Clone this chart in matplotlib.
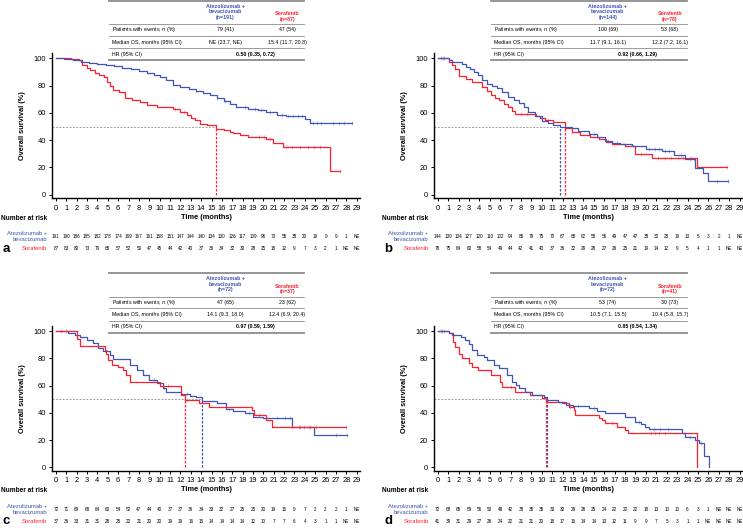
import matplotlib.pyplot as plt
import matplotlib.transforms as mtransforms
import numpy as np

plt.rcParams['font.family'] = ['Liberation Sans', 'DejaVu Sans']

BLUE = '#3F55B4'
RED = '#FF1F2D'
GREY = '#8C8C8C'

months = list(range(30))

# ---- panel a ----
a_atezo_t = [0, 0.8, 1.6, 2.4, 3.2, 4.0, 4.8, 5.6, 6.4, 7.2, 8.0, 8.8, 9.5, 10.0, 10.6, 11.3,
             12.0, 12.8, 13.5, 14.2, 14.85, 15.5, 16.2, 16.8, 17.4, 18.5, 19.5, 20.3, 21.3, 22.2, 24.0, 24.5]
a_atezo_s = [100, 99.5, 98.5, 97.5, 96.6, 96, 95, 94.2, 93, 92, 90.5, 89, 87.5, 86.4, 84, 80.3,
             79, 77.5, 76, 74.5, 73, 71, 68.5, 66.5, 64.4, 63.2, 62, 60.8, 58.8, 57.6, 55.5, 52.5]
a_atezo_end = 28.5
a_atezo_cens = [13.5, 15.5, 16.3, 18.2, 19.2, 19.8, 20.6, 21.8, 22.4, 22.9, 23.3, 23.7,
                24.8, 25.2, 25.6, 26.7, 27.3, 27.8, 28.5]
a_sora_t = [0, 1.5, 2.2, 2.5, 3.0, 3.3, 3.8, 4.2, 4.6, 4.9, 5.2, 5.5, 6.1, 6.7, 7.3, 8.1, 8.8, 9.7,
            11.3, 12.0, 12.6, 13.0, 13.4, 13.9, 14.6, 15.4, 16.2, 16.8, 17.1, 17.7, 18.5, 20.3, 20.9, 21.9, 26.4]
a_sora_s = [100, 99.3, 98.6, 95.5, 93, 91.5, 89.5, 88, 86, 83, 80, 76.6, 75.5, 71, 69.5, 68, 66, 64.4,
            63.2, 61, 58.3, 56.5, 54.5, 52, 51, 48.5, 47.5, 46, 45, 44, 42, 41, 38, 35, 17.3]
a_sora_end = 27.4
a_sora_cens = [11.5, 12.3, 19.6, 20.1, 20.6, 22.2, 22.8, 23.5, 24.3, 24.9, 25.5, 27.4]
a_medians = [15.4]
a_median_colors = [RED]
a_n = ['191', '87']
a_events = ['79 (41)', '47 (54)']
a_os = ['NE (23.7, NE)', '15.4 (11.7, 20.8)']
a_hr = '0.50 (0.35, 0.72)'
a_risk_atezo = ['191', '190', '186', '185', '182', '178', '174', '169', '167', '161', '158', '151', '147', '144',
                '140', '134', '130', '126', '117', '109', '96', '73', '55', '38', '20', '19', '9', '9', '1', 'NE']
a_risk_sora = ['87', '83', '80', '73', '70', '65', '57', '52', '50', '47', '45', '44', '42', '40', '37', '36',
               '34', '32', '30', '28', '25', '18', '12', '9', '7', '3', '2', '1', 'NE', 'NE']

# ---- panel b ----
b_atezo_t = [0, 1.06, 1.37, 2.3, 2.7, 3.1, 3.5, 3.9, 4.3, 4.7, 5.2, 5.7, 6.2, 6.8, 7.3, 7.8, 8.3, 8.7,
             9.3, 10.0, 10.6, 11.1, 11.7, 12.9, 13.5, 14.5, 15.3, 16.1, 16.7, 17.5, 18.7, 20.0, 21.5,
             22.7, 23.8, 24.75, 25.5, 26.0]
b_atezo_s = [100, 98.6, 97.5, 96, 94, 92.5, 90, 87.6, 84.5, 81.5, 80, 78, 75, 72, 69.5, 67, 64, 61,
             57.5, 54, 52.5, 51.5, 49.8, 49.2, 47, 44.3, 42.5, 39.4, 37.7, 37, 35.7, 33.3, 31.8,
             28.9, 26.5, 19.9, 16.3, 10.4]
b_atezo_end = 27.9
b_atezo_cens = [0.3, 0.6, 15.0, 16.4, 17.2, 20.3, 20.9, 21.3, 21.8, 22.2, 23.4, 24.2, 24.6, 26.8, 27.9]
b_sora_t = [0, 1.06, 1.4, 1.7, 2.0, 2.7, 3.3, 4.3, 4.7, 5.1, 5.5, 5.9, 6.4, 6.8, 7.1, 7.45, 9.4, 9.8,
            10.3, 11.1, 12.2, 12.9, 13.7, 14.6, 15.5, 16.2, 16.7, 18.0, 19.0, 20.6, 24.9]
b_sora_s = [100, 97, 95, 92.3, 87.4, 85, 82.6, 79, 76, 72.8, 71, 69.2, 66.5, 64.3, 61.5, 59.4, 57.5, 56,
            55, 53.5, 49, 46, 43.6, 42.5, 41.2, 39, 37.5, 35.6, 30.2, 26.6, 20.1]
b_sora_end = 27.8
b_sora_cens = [0.5, 8.0, 8.6, 10.6, 12.9, 16.9, 19.5, 21.2, 21.8, 22.4, 23.1, 23.6, 24.3, 27.8]
b_medians = [11.7, 12.2]
b_median_colors = [BLUE, RED]
b_n = ['144', '78']
b_events = ['100 (69)', '53 (68)']
b_os = ['11.7 (9.1, 16.1)', '12.2 (7.2, 16.1)']
b_hr = '0.92 (0.66, 1.29)'
b_risk_atezo = ['144', '139', '134', '127', '120', '110', '102', '94', '85', '79', '75', '70', '67', '65',
                '62', '58', '56', '49', '47', '47', '38', '32', '25', '19', '13', '5', '3', '2', '1', 'NE']
b_risk_sora = ['78', '75', '64', '60', '58', '54', '49', '44', '42', '41', '40', '37', '36', '32', '29',
               '28', '27', '26', '25', '21', '19', '14', '12', '9', '5', '4', '1', '1', 'NE', 'NE']

# ---- panel c ----
c_atezo_t = [0, 1.2, 1.8, 2.3, 3.0, 3.6, 4.1, 4.55, 5.2, 5.5, 7.1, 7.8, 8.4, 9.0, 9.7, 10.3, 10.6,
             12.1, 12.9, 13.5, 14.1, 15.5, 16.4, 17.1, 18.2, 19.0, 20.0, 22.8, 24.9]
c_atezo_s = [100, 98.6, 97.2, 95.8, 93.4, 91, 87.3, 85.6, 82.4, 79.5, 75, 71.4, 67.8, 64.1, 61.7, 58, 55.5,
             53.8, 52.4, 51.4, 48.9, 47, 42.6, 41.6, 40.1, 37.2, 36, 29.9, 23.8]
c_atezo_end = 28.1
c_atezo_cens = [0.5, 1.0, 9.5, 10.4, 12.6, 16.7, 18.6, 21.3, 22.1, 22.6, 23.4, 23.9, 24.5, 27.0, 28.1]
c_sora_t = [0, 2.0, 2.3, 4.7, 4.85, 5.0, 5.4, 6.0, 6.5, 6.8, 7.1, 10.0, 12.1, 12.4, 13.8, 14.8,
            18.9, 19.1, 20.3, 20.8]
c_sora_s = [100, 94.5, 88.9, 86, 82.9, 78.8, 75, 73.8, 71.4, 67.8, 62.9, 59.7, 53.1, 49.5, 47, 44.5,
            42.1, 38.5, 35, 29.4]
c_sora_end = 28.0
c_sora_cens = [10.8, 12.6, 19.6, 22.8, 23.5, 24.4, 25.1, 28.0]
c_medians = [12.4, 14.1]
c_median_colors = [RED, BLUE]
c_n = ['72', '37']
c_events = ['47 (65)', '23 (62)']
c_os = ['14.1 (9.3, 18.0)', '12.4 (6.9, 20.4)']
c_hr = '0.97 (0.59, 1.59)'
c_risk_atezo = ['72', '71', '69', '68', '64', '60', '54', '52', '47', '44', '40', '37', '37', '36', '34',
                '33', '32', '27', '25', '25', '20', '19', '15', '9', '7', '2', '2', '2', '1', 'NE']
c_risk_sora = ['37', '36', '33', '31', '31', '28', '25', '22', '21', '20', '20', '19', '19', '16', '15',
               '14', '14', '14', '14', '12', '10', '7', '7', '6', '4', '3', '1', '1', 'NE', 'NE']

# ---- panel d ----
d_atezo_t = [0, 1.06, 1.5, 2.2, 2.65, 3.0, 3.3, 3.8, 4.4, 4.7, 5.4, 5.9, 6.7, 7.1, 7.5, 7.8, 8.4, 9.1,
             10.2, 10.5, 11.6, 12.3, 13.0, 14.5, 15.3, 16.1, 18.0, 19.0, 19.5, 19.9, 20.3, 23.5, 23.8,
             24.7, 25.1, 25.6, 26.1]
d_atezo_s = [100, 98.6, 97, 95.8, 93.4, 90.3, 86, 82.4, 81.2, 78.8, 75, 72.7, 67.8, 62.9, 60.4, 58, 55.5,
             53.1, 51.9, 49.5, 48.2, 45.8, 44.8, 43.4, 41.5, 39.7, 37.2, 33.6, 32, 29.9, 28, 25.5, 22.1,
             20.1, 17.7, 8.4, 0]
d_atezo_end = 26.1
d_atezo_cens = [0.3, 0.6, 13.5, 15.0, 19.3, 20.8, 21.4, 22.1, 24.2, 25.3]
d_sora_t = [0, 1.06, 1.4, 1.5, 1.7, 2.0, 2.3, 3.0, 3.3, 3.9, 5.1, 6.0, 6.2, 7.45, 8.9, 10.0, 10.4, 11.9,
            12.6, 13.1, 13.2, 15.5, 15.8, 16.1, 17.2, 18.0, 18.3, 24.9]
d_sora_s = [100, 98.5, 97, 92.2, 88, 82.9, 80, 76.8, 73.8, 71.4, 67.8, 62.9, 59.2, 55.5, 53.1, 50.7, 48.2,
            47, 44.5, 42.1, 38.5, 36, 34.8, 32.8, 29.9, 27.5, 25.1, 0]
d_sora_end = 24.9
d_sora_cens = [0.4, 7.0, 12.7, 16.7, 20.5, 20.9, 21.3, 21.8]
d_medians = [10.4, 10.5]
d_median_colors = [RED, BLUE]
d_n = ['72', '41']
d_events = ['53 (74)', '30 (73)']
d_os = ['10.5 (7.1, 15.5)', '10.4 (5.8, 15.7)']
d_hr = '0.85 (0.54, 1.34)'
d_risk_atezo = ['72', '68', '65', '59', '56', '50', '48', '42', '38', '35', '35', '33', '30', '29', '28',
                '25', '24', '22', '22', '22', '18', '13', '10', '10', '6', '3', '1', 'NE', 'NE', 'NE']
d_risk_sora = ['41', '39', '31', '29', '27', '26', '24', '22', '21', '21', '20', '18', '17', '16', '14',
               '14', '13', '12', '11', '9', '9', '7', '5', '3', '1', '1', 'NE', 'NE', 'NE', 'NE']


def km(ax, t, s, end, cens, color):
    x = list(t) + [end]
    y = list(s) + [s[-1]]
    ax.step(x, y, where='post', color=color, lw=0.9, zorder=3)
    idx = np.searchsorted(t, cens, side='right') - 1
    cy = np.array(s)[idx]
    ax.plot(cens, cy, ls='none', marker='|', ms=2.5, mew=0.5, color=color, alpha=0.55, zorder=3)


def panel(fig, rect, letter, curves, medians, mcolors, n, events, os_, hr, risk_a, risk_s, xmin):
    ax = fig.add_axes(rect)
    for t, s, end, cens, col in curves:
        km(ax, t, s, end, cens, col)
    ax.set_xlim(xmin, 29.3)
    ax.set_ylim(-2.6, 103.7)
    # median lines
    ax.plot([xmin, max(medians)], [50, 50], ls=(0, (2, 1.5)), color='#A0A0A0', lw=0.7, zorder=2)
    for m, c in zip(medians, mcolors):
        ax.plot([m, m], [0, 50], ls=(0, (2, 1.2)), color=c, lw=0.9, zorder=2)
    for sp in ['top', 'right']:
        ax.spines[sp].set_visible(False)
    for sp in ['left', 'bottom']:
        ax.spines[sp].set_linewidth(1.0)
    ax.set_xticks(months)
    ax.set_yticks([0, 20, 40, 60, 80, 100])
    ax.tick_params(labelsize=5.4, length=2.5, width=0.7, pad=2)
    ax.set_ylabel('Overall survival (%)', fontsize=5.3, fontweight='bold')
    ax.yaxis.set_label_coords(-0.085, 0.5)
    ax.text(0.5, -0.131, 'Time (months)', transform=ax.transAxes, ha='center', va='center',
            fontsize=5.3, fontweight='bold')

    # summary table
    x0, x1 = 0.1847, 0.82
    for y, lw in zip([1.364, 1.202, 1.121, 1.034, 0.952], [1.3, 0.6, 0.6, 0.6, 1.3]):
        ax.plot([x0, x1], [y, y], transform=ax.transAxes, clip_on=False, color=GREY, lw=lw)
    ca, cs, lx = 0.5625, 0.764, 0.1945
    fs = 3.8
    ax.text(ca, 1.2869, 'Atezolizumab +\nbevacizumab\n(n=%s)' % n[0], transform=ax.transAxes,
            ha='center', va='center', fontsize=fs, fontweight='bold', color=BLUE, linespacing=1.15)
    ax.text(cs, 1.256, 'Sorafenib\n(n=%s)' % n[1], transform=ax.transAxes,
            ha='center', va='center', fontsize=fs, fontweight='bold', color=RED, linespacing=1.15)
    ax.text(lx, 1.163, 'Patients with events, $n$ (%)', transform=ax.transAxes, va='center', fontsize=fs)
    ax.text(lx, 1.078, 'Median OS, months (95% CI)', transform=ax.transAxes, va='center', fontsize=fs)
    ax.text(lx, 0.995, 'HR (95% CI)', transform=ax.transAxes, va='center', fontsize=fs)
    for col, ev, md in zip([ca, cs], events, os_):
        ax.text(col, 1.163, ev, transform=ax.transAxes, ha='center', va='center', fontsize=fs)
        ax.text(col, 1.078, md, transform=ax.transAxes, ha='center', va='center', fontsize=fs)
    ax.text(0.66, 0.995, hr, transform=ax.transAxes, ha='center', va='center', fontsize=fs,
            fontweight='bold')

    # number at risk
    tr = mtransforms.blended_transform_factory(ax.transData, ax.transAxes)
    for m, ra, rs in zip(months, risk_a, risk_s):
        ax.text(m, -0.265, ra, transform=tr, ha='center', va='center', fontsize=3.3)
        ax.text(m, -0.3476, rs, transform=tr, ha='center', va='center', fontsize=3.3)
    ax.text(-0.018, -0.138, 'Number at risk', transform=ax.transAxes, ha='right', va='center',
            fontsize=4.7, fontweight='bold')
    ax.text(-0.018, -0.265, 'Atezolizumab +\nbevacizumab', transform=ax.transAxes, ha='right',
            va='center', fontsize=4.2, color=BLUE, linespacing=1.25)
    ax.text(-0.018, -0.3476, 'Sorafenib', transform=ax.transAxes, ha='right', va='center',
            fontsize=4.2, color=RED)
    ax.text(-0.163, -0.3476, letter, transform=ax.transAxes, ha='left', va='center',
            fontsize=9.5, fontweight='bold')
    return ax


fig = plt.figure(figsize=(7.43, 5.28), dpi=100)

panel(fig, [0.0704, 0.6244, 0.4139, 0.2746], 'a',
      [(a_sora_t, a_sora_s, a_sora_end, a_sora_cens, RED),
       (a_atezo_t, a_atezo_s, a_atezo_end, a_atezo_cens, BLUE)],
      a_medians, a_median_colors, a_n, a_events, a_os, a_hr, a_risk_atezo, a_risk_sora, -0.35)
panel(fig, [0.5845, 0.6244, 0.4151, 0.2746], 'b',
      [(b_sora_t, b_sora_s, b_sora_end, b_sora_cens, RED),
       (b_atezo_t, b_atezo_s, b_atezo_end, b_atezo_cens, BLUE)],
      b_medians, b_median_colors, b_n, b_events, b_os, b_hr, b_risk_atezo, b_risk_sora, -0.33)
panel(fig, [0.0704, 0.108, 0.4139, 0.2746], 'c',
      [(c_atezo_t, c_atezo_s, c_atezo_end, c_atezo_cens, BLUE),
       (c_sora_t, c_sora_s, c_sora_end, c_sora_cens, RED)],
      c_medians, c_median_colors, c_n, c_events, c_os, c_hr, c_risk_atezo, c_risk_sora, -0.35)
panel(fig, [0.5845, 0.108, 0.4151, 0.2746], 'd',
      [(d_sora_t, d_sora_s, d_sora_end, d_sora_cens, RED),
       (d_atezo_t, d_atezo_s, d_atezo_end, d_atezo_cens, BLUE)],
      d_medians, d_median_colors, d_n, d_events, d_os, d_hr, d_risk_atezo, d_risk_sora, -0.33)

fig.savefig('out.png', dpi=100)
